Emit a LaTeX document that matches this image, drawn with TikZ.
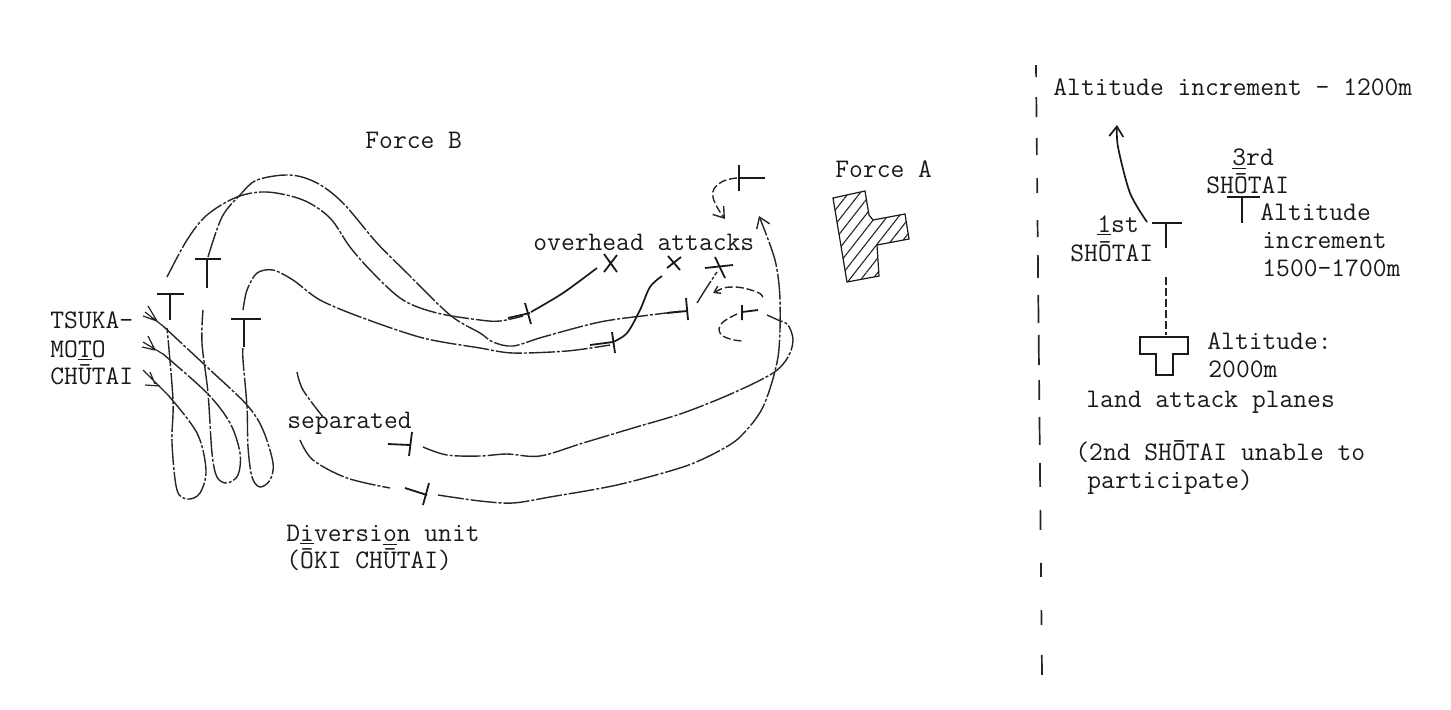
\documentclass[tikz,border=0pt]{standalone}
\usepackage{xcolor}
\usepackage{tikz}
\usetikzlibrary{arrows.meta,patterns.meta}

\begin{document}
\begin{tikzpicture}[
  x=0.5pt, y=-0.5pt,
  typed/.style={font=\fontsize{13.4}{15}\ttfamily, anchor=base west, inner sep=0pt, text=black!90},
  plane/.style={draw=black!90, line width=0.9pt},
  track/.style={draw=black!85, line width=0.7pt, dash pattern=on 13pt off 1pt on 1.5pt off 1pt},
  shortdash/.style={draw=black!85, line width=0.7pt, dash pattern=on 4pt off 1.5pt},
  solidpath/.style={draw=black!90, line width=0.85pt},
  feather/.style={draw=black!85, line width=0.6pt},
  openhead/.style={-{Straight Barb[length=5pt,width=7pt]}},
]
\useasboundingbox (0,0) rectangle (1451,709);

%% ---- Labels, left part ----
\node[typed] (forceb) at (365,148) {Force B};
\node[typed] (forcea) at (835,177) {Force A};
\node[typed] (overhead) at (533,250) {overhead attacks};
\node[typed] (tsuka) at (50,328) {TSUKA-};
\node[typed] (moto) at (50,357) {MO\underline{T}O};
\node[typed] (chutai) at (50,384) {CH\={U}TAI};
\node[typed] (separated) at (287,428) {separated};
\node[typed] (diversion) at (286,541) {D\underline{i}versi\underline{o}n unit};
\node[typed] (oki) at (286,568) {(\={O}KI CH\={U}TAI)};

%% ---- Chutai leaders, first passes ----
\draw[plane] (157,294) -- (184,294) (170,294) -- (170,320);
\draw[plane] (195,259) -- (221,259) (207,259) -- (207,288);
\draw[plane] (231,319) -- (261,319) (244,319) -- (244,347);

%% ---- Feathered starts ----
\draw[feather] (145,312) -- (163,326) (148,306) -- (157,321) (143,316) -- (157,321);
\draw[feather] (143,342) -- (163,354) (148,336) -- (155,350) (142,347) -- (155,350);
\draw[feather] (143,370) -- (168,395) (150,372) -- (155,384) (145,385) -- (160,386);

%% ---- Loops ----
\draw[track] plot[smooth, tension=0.55] coordinates {(163,326) (207,367) (247,405) (263,430) (273,463) (270,480) (260,487) (252,477) (248,447) (247,407) (243,360) (243,348)};
\draw[track] plot[smooth, tension=0.55] coordinates {(163,354) (207,393) (230,423) (240,453) (238,475) (227,483) (217,477) (212,453) (208,393) (202,343) (203,310)};
\draw[track] plot[smooth, tension=0.55] coordinates {(168,395) (197,433) (206,470) (200,493) (188,499) (177,490) (172,443) (173,400) (167,328)};

%% ---- Tracks over Force B ----
\draw[track] plot[smooth, tension=0.55] coordinates {(167,277) (187,240) (207,215) (237,197) (267,192) (303,200) (330,218) (350,247) (373,273) (403,300) (437,313) (480,320) (500,321) (523,316)};
\draw[solidpath] plot[smooth, tension=0.5] coordinates {(531,312) (563,293) (597,268)};
\draw[track] plot[smooth, tension=0.55] coordinates {(208,257) (222,217) (240,195) (257,180) (290,175) (317,183) (343,203) (377,243) (407,273) (450,315) (480,333) (493,342) (513,346) (543,337) (600,322) (650,315) (683,311)};
\draw[track] plot[smooth, tension=0.7] coordinates {(697,303) (707,287) (717,272)};
\draw[track] plot[smooth, tension=0.5] coordinates {(243,310) (247,290) (257,273) (273,270) (293,280) (320,300) (363,318) (423,338) (480,348) (513,353) (567,351) (610,345)};
\draw[solidpath] plot[smooth, tension=0.55] coordinates {(613,342) (627,333) (640,310) (650,287) (662,276)};

%% ---- Diversion unit ----
\draw[track] plot[smooth, tension=0.55] coordinates {(297,372) (303,390) (323,417)};
\draw[plane] (412,432) -- (409,456) (388,444) -- (410,445);
\draw[track] plot[smooth, tension=0.55] coordinates {(423,447) (447,455) (480,456) (507,454) (540,456) (583,443) (633,428) (683,413) (733,393) (773,373) (788,357) (793,340) (788,325) (778,320) (767,315)};
\draw[track] plot[smooth, tension=0.55] coordinates {(300,440) (313,460) (347,478) (390,488)};
\draw[plane] (429,483) -- (423,505) (405,488) -- (427,495);
\draw[track, openhead] plot[smooth, tension=0.5] coordinates {(438,495) (480,501) (513,503) (550,497) (617,485) (683,467) (717,452) (740,437) (763,407) (778,357) (780,300) (775,260) (759,216)};

%% ---- Attack marks ----
\draw[plane] (525,303) -- (531,324) (508,318) -- (530,313);
\draw[plane] (612,332) -- (615,353) (590,345) -- (613,342);
\draw[plane] (686,298) -- (688,320) (667,313) -- (687,311);
\draw[plane] (604,254) -- (617,272) (617,255) -- (604,272);
\draw[plane] (668,256) -- (680,270) (681,257) -- (667,268);
\draw[plane] (705,268) -- (733,265) (715,257) -- (725,278);
\draw[plane] (739,165) -- (739,191) (739,178) -- (765,178);
\draw[plane] (742,305) -- (742,320) (742,312) -- (758,310);

%% ---- Turns near Force A ----
\draw[shortdash, openhead] plot[smooth, tension=0.8] coordinates {(737,178) (720,183) (713,197) (725,219)};
\draw[shortdash] plot[smooth, tension=0.7] coordinates {(737,314) (722,323) (720,333) (730,339) (743,341)};
\draw[shortdash, {Straight Barb[length=3pt,width=4pt]}-] plot[smooth, tension=0.7] coordinates {(713,293) (733,287) (757,292) (763,298)};

%% ---- Force A ----
\draw[plane, line width=0.6pt, pattern={Lines[angle=52,distance=4.5pt,line width=0.55pt]}, pattern color=black!85]
  (833,198) -- (865,191) -- (869,215) -- (873,220) -- (905,214) -- (909,239) -- (877,245) -- (879,276) -- (847,282) -- cycle;

%% ---- Divider ----
\draw[draw=black!85, line width=0.85pt, dash pattern=on 6pt off 10pt on 10pt off 10.5pt on 8.5pt off 11.5pt on 7.5pt off 13.5pt on 8.5pt off 9pt on 11.5pt off 8.5pt on 14pt off 6pt on 15pt off 7.5pt on 10pt off 8.5pt on 14pt off 9pt on 12pt off 11.5pt on 10pt off 16.5pt on 7pt off 16.5pt on 7.5pt off 15pt on 10pt off 30pt]
  (1036,65) -- (1042,675);

%% ---- Labels, right part ----
\node[typed] (increment) at (1053,95) {Altitude increment - 1200m};
\node[typed] (third) at (1232,165) {\underline{3}rd};
\node[typed] (thirdname) at (1206,193) {SH\={O}TAI};
\node[typed] (thirdalt) at (1260,220) {Altitude};
\node[typed] (thirdinc) at (1262,248) {increment};
\node[typed] (thirdval) at (1262,276) {1500-1700m};
\node[typed] (first) at (1097,232) {\underline{1}st};
\node[typed] (firstname) at (1070,261) {SH\={O}TAI};
\node[typed] (landalt) at (1207,349) {Altitude:};
\node[typed] (landval) at (1208,377) {2000m};
\node[typed] (landname) at (1086,407) {land attack planes};
\node[typed] (second) at (1075,460) {(2nd SH\={O}TAI unable to};
\node[typed] (secondb) at (1087,488) {participate)};

%% ---- Formation ----
\draw[plane] (1152,223) -- (1182,223) (1166,223) -- (1166,248);
\draw[plane] (1227,197) -- (1260,197) (1242,197) -- (1242,223);
\draw[solidpath, openhead] plot[smooth, tension=0.5] coordinates {(1147,222) (1130,193) (1118,147) (1117,125)};
\draw[shortdash] (1166,277) -- (1166,335);
\draw[plane] (1140,337) -- (1188,337) -- (1188,354) -- (1173,354) -- (1173,375) -- (1156,375) -- (1156,354) -- (1140,354) -- cycle;

\end{tikzpicture}
\end{document}
